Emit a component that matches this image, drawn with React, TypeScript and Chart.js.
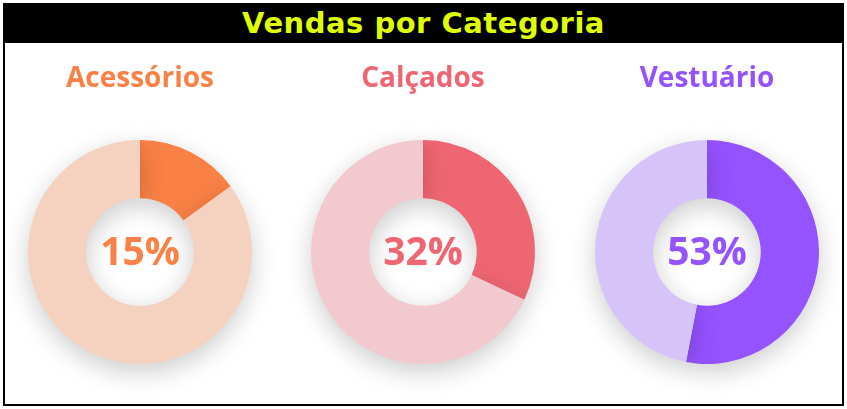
import React, { useEffect, useRef } from "react";
import { Chart, registerables } from "chart.js";

Chart.register(...registerables);

const mainTitle = "Vendas por Categoria";
const categories = ["Acessórios", "Calçados", "Vestuário"];
const percents = [15, 32, 53];
const mainColors = ["#F98145", "#EF6673", "#9552FF"];
const lightColors = ["#F5D1BF", "#F2C9CE", "#D6C4F8"];
const centersX = [140, 423, 707];

const CANVAS_W = 300;
const CANVAS_H = 355;
const CANVAS_TOP = 45;

function Donut({ idx }: { idx: number }) {
  const ref = useRef<HTMLCanvasElement | null>(null);
  useEffect(() => {
    if (!ref.current) return;
    const color = mainColors[idx];
    const shadowPlugin = {
      id: "shadow" + idx,
      beforeDatasetsDraw(chart: any) {
        const ctx = chart.ctx;
        ctx.save();
        ctx.shadowColor = "rgba(0,0,0,0.2)";
        ctx.shadowBlur = 26;
        ctx.shadowOffsetX = 0;
        ctx.shadowOffsetY = 8;
      },
      afterDatasetsDraw(chart: any) {
        chart.ctx.restore();
      },
    };
    const centerText = {
      id: "center" + idx,
      afterDraw(chart: any) {
        const ctx = chart.ctx;
        const a = chart.chartArea;
        ctx.save();
        ctx.fillStyle = color;
        ctx.font = "bold 39px 'Open Sans'";
        ctx.textAlign = "center";
        ctx.textBaseline = "alphabetic";
        ctx.fillText(percents[idx] + "%", (a.left + a.right) / 2, (a.top + a.bottom) / 2 + 13);
        ctx.restore();
      },
    };
    const chart = new Chart(ref.current, {
      type: "doughnut",
      data: {
        labels: [categories[idx], "Outros"],
        datasets: [
          {
            data: [percents[idx], 100 - percents[idx]],
            backgroundColor: [mainColors[idx], lightColors[idx]],
            borderWidth: 0,
            clip: false as any,
          } as any,
        ],
      },
      options: {
        animation: false,
        responsive: false,
        maintainAspectRatio: false,
        radius: 112,
        cutout: "48%",
        layout: { padding: 0 },
        plugins: {
          legend: { display: false },
          tooltip: { enabled: false },
          title: {
            display: true,
            text: categories[idx],
            color: color,
            font: { family: "'Open Sans'", size: 28, weight: "bold" },
            padding: { top: 17, bottom: 8.4 },
          },
        },
      } as any,
      plugins: [shadowPlugin, centerText],
    });
    return () => chart.destroy();
  }, [idx]);
  return (
    <canvas
      ref={ref}
      width={CANVAS_W}
      height={CANVAS_H}
      style={{
        position: "absolute",
        left: centersX[idx] - CANVAS_W / 2,
        top: CANVAS_TOP,
        width: CANVAS_W,
        height: CANVAS_H,
      }}
    />
  );
}

export default function App() {
  return (
    <div
      style={{
        position: "fixed",
        left: 0,
        top: 0,
        width: 847,
        height: 409,
        background: "#ffffff",
        overflow: "hidden",
      }}
    >
      <div
        style={{
          position: "absolute",
          left: 3,
          top: 3,
          width: 841,
          height: 403,
          boxSizing: "border-box",
          border: "2px solid #000",
        }}
      />
      <div
        style={{
          position: "absolute",
          left: 3,
          top: 3,
          width: 841,
          height: 40,
          background: "#000",
          color: "#DFFF00",
          fontFamily: "'DejaVu Sans', sans-serif",
          fontWeight: "bold",
          fontSize: 29,
          letterSpacing: "0.5px",
          lineHeight: "40px",
          textAlign: "center",
        }}
      >
        {mainTitle}
      </div>
      {categories.map((_, i) => (
        <Donut key={i} idx={i} />
      ))}
    </div>
  );
}
